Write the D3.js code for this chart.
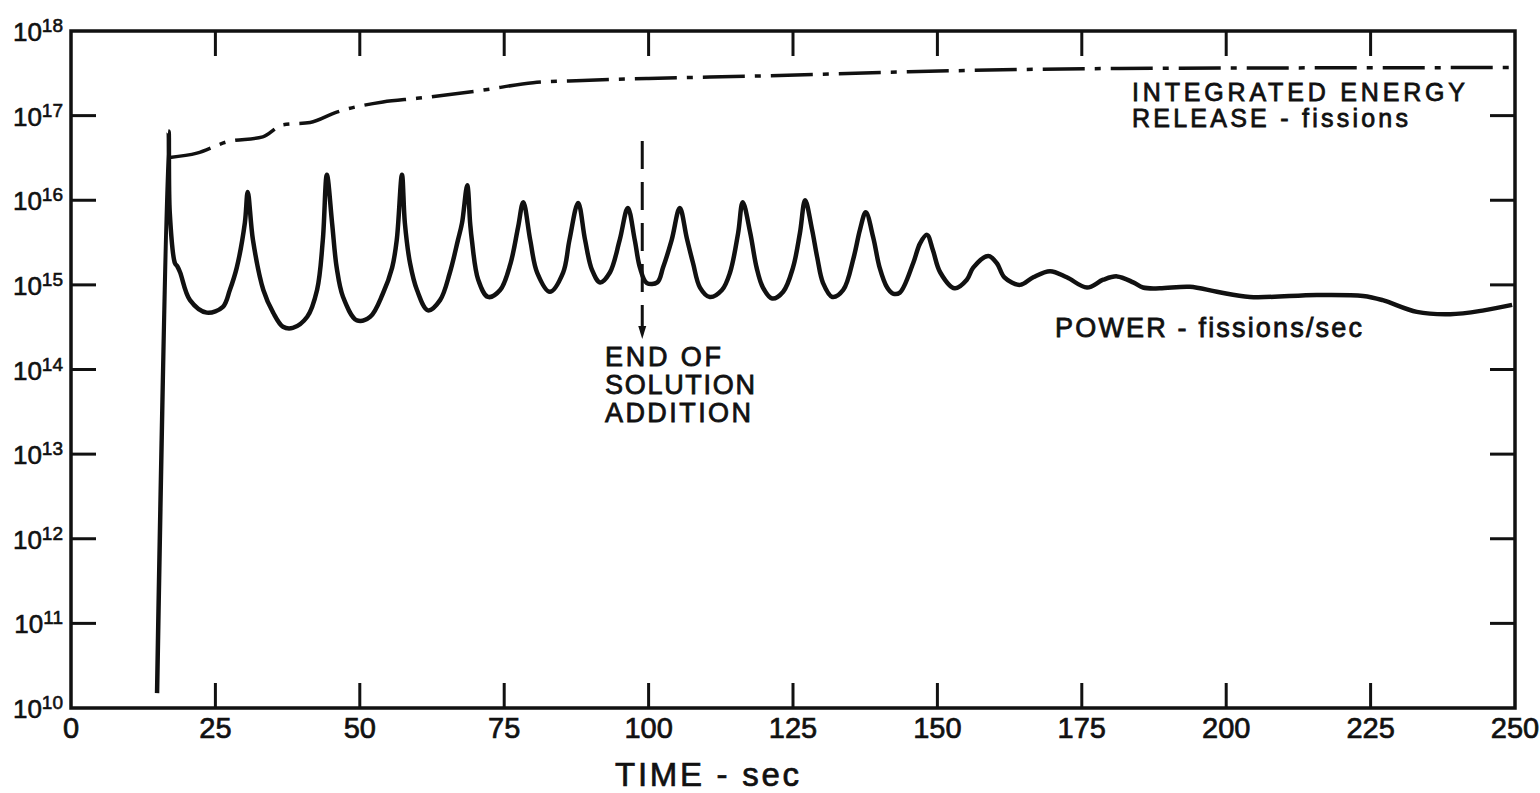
<!DOCTYPE html>
<html>
<head>
<meta charset="utf-8">
<script src="https://cdn.jsdelivr.net/npm/d3@7"></script>
<style>
  body { margin: 0; background: #fff; }
  svg { display: block; }
  text { font-family: "Liberation Sans", Arial, sans-serif; fill: #111; }
</style>
</head>
<body>
<svg id="chart" width="1540" height="793"></svg>
<script>
// time axis ticks (sec)
var timeTicks = [0, 25, 50, 75, 100, 125, 150, 175, 200, 225, 250];
// decades on the log axis
var decadeExps = [10, 11, 12, 13, 14, 15, 16, 17, 18];

// power - fissions/sec
var powerTime = [14.9, 16.9, 17.1, 18.0, 18.4, 18.9, 20.6, 23.5, 26.3, 27.5, 28.7, 30.1, 30.6,
  31.5, 33.3, 35.0, 36.7, 38.4, 40.9, 42.6, 43.6, 44.3,
  45.2, 46.0, 47.1, 49.5, 51.8, 54.0, 55.6, 56.4, 57.3,
  57.8, 58.7, 59.9, 61.8, 63.9, 65.6, 67.0, 67.7, 68.6,
  69.1, 69.4, 70.5, 72.2, 74.3, 76.1, 77.4, 78.3,
  79.5, 80.7, 82.9, 85.2, 86.3, 87.8,
  89.0, 90.2, 91.6, 93.3, 95.0, 96.4,
  97.6, 98.5, 99.7, 101.5, 102.5, 104.0, 105.4,
  106.6, 107.7, 108.9, 110.6, 112.7, 114.1, 115.5, 116.3,
  117.6, 118.7, 119.8, 121.4, 123.3, 125.0, 126.2, 127.1,
  128.3, 129.2, 130.2, 131.8, 133.7, 135.5, 136.6, 137.6,
  138.9, 140.0, 141.3, 142.3, 143.5, 145.8, 147.0, 148.2,
  149.2, 150.5, 153.0, 155.1, 156.2, 158.8,
  160.3, 161.6, 164.3, 166.6, 169.5, 172.4, 175.9, 178.7, 181.1, 183.9, 185.6, 188.5,
  193.7, 198.4, 204.1, 215.7, 223.7, 227.1, 233.0, 238.8, 244.6, 249.5];
var powerValue = [1.5e10, 6.5e16, 7.1e15, 1.8e15, 1.66e15, 1.4e15, 6.6e14, 4.7e14, 5.5e14, 8.7e14, 1.6e15, 5.4e15, 1.25e16,
  3.4e15, 8.7e14, 4.7e14, 3.2e14, 3.1e14, 4.2e14, 8.7e14, 3.4e15, 2.0e16,
  5.4e15, 1.6e15, 7.2e14, 3.8e14, 4.2e14, 7.9e14, 1.6e15, 3.4e15, 2.0e16,
  5.4e15, 1.8e15, 8.7e14, 5.0e14, 6.6e14, 1.4e15, 3.4e15, 5.4e15, 1.5e16,
  5.4e15, 3.4e15, 1.15e15, 7.2e14, 8.7e14, 1.8e15, 4.8e15, 9.5e15,
  3.4e15, 1.4e15, 8.3e14, 1.4e15, 3.4e15, 9.3e15,
  3.4e15, 1.5e15, 1.07e15, 1.4e15, 3.4e15, 8.1e15,
  3.4e15, 1.6e15, 1.05e15, 1.07e15, 1.6e15, 3.4e15, 8.1e15,
  3.6e15, 1.8e15, 9.3e14, 7.2e14, 8.7e14, 1.4e15, 4.1e15, 9.5e15,
  4.1e15, 1.6e15, 9.3e14, 6.9e14, 8.3e14, 1.6e15, 4.1e15, 1.0e16,
  4.5e15, 2.1e15, 1.05e15, 7.2e14, 8.7e14, 2.1e15, 4.5e15, 7.2e15,
  3.6e15, 1.6e15, 9.3e14, 7.9e14, 8.1e14, 1.8e15, 3.1e15, 3.9e15,
  2.6e15, 1.4e15, 9.1e14, 1.15e15, 1.6e15, 2.2e15,
  1.8e15, 1.23e15, 1.0e15, 1.23e15, 1.45e15, 1.23e15, 9.3e14, 1.15e15, 1.26e15, 1.07e15, 9.3e14, 9.1e14,
  9.5e14, 8.3e14, 7.2e14, 7.6e14, 7.4e14, 6.6e14, 4.8e14, 4.5e14, 5.0e14, 5.8e14];

// integrated energy release - fissions
var energyTime = [17.1, 21.8, 27.0, 33.2, 36.7, 41.4, 46.0, 54.0, 59.9, 71.3, 80.0, 88.6, 100, 120, 145, 180, 250];
var energyValue = [3.2e16, 3.6e16, 4.9e16, 5.6e16, 7.8e16, 8.3e16, 1.1e17, 1.45e17, 1.6e17, 2.0e17, 2.45e17, 2.6e17, 2.75e17, 2.95e17, 3.3e17, 3.6e17, 3.7e17];

// end of solution addition marker
var endAddTime = 98.9;
var endAddTop = 5e16, endAddTip = 2.3e14;

var svg = d3.select("#chart");
var ink = "#111";

var x = d3.scaleLinear().domain([0, 250]).range([71, 1515]);
var y = d3.scaleLog().domain([1e10, 1e18]).range([708, 31]);

// frame
svg.append("rect")
  .attr("x", x(0)).attr("y", y(1e18))
  .attr("width", x(250) - x(0)).attr("height", y(1e10) - y(1e18))
  .attr("fill", "none").attr("stroke", ink).attr("stroke-width", 3.5);

// inward ticks on all four sides
var tickLen = 25;
var innerX = timeTicks.filter(function(t){ return t > 0 && t < 250; });
var innerY = decadeExps.filter(function(e){ return e > 10 && e < 18; });
var ticks = svg.append("g").attr("stroke", ink).attr("stroke-width", 3);
innerX.forEach(function(t){
  ticks.append("line").attr("x1", x(t)).attr("x2", x(t))
    .attr("y1", y(1e10)).attr("y2", y(1e10) - tickLen);
  ticks.append("line").attr("x1", x(t)).attr("x2", x(t))
    .attr("y1", y(1e18)).attr("y2", y(1e18) + tickLen);
});
innerY.forEach(function(e){
  var v = Math.pow(10, e);
  ticks.append("line").attr("x1", x(0)).attr("x2", x(0) + tickLen)
    .attr("y1", y(v)).attr("y2", y(v));
  ticks.append("line").attr("x1", x(250)).attr("x2", x(250) - tickLen)
    .attr("y1", y(v)).attr("y2", y(v));
});

// x tick labels
svg.selectAll(".xlab")
  .data(timeTicks)
  .enter()
  .append("text")
  .attr("class", "xlab")
  .attr("x", function(d){ return x(d); })
  .attr("y", 738)
  .attr("text-anchor", "middle")
  .attr("font-size", 29)
  .attr("stroke", ink).attr("stroke-width", 0.7)
  .text(function(d){ return d; });

// y tick labels, 10 with superscript exponent
var ylab = svg.selectAll(".ylab")
  .data(decadeExps)
  .enter()
  .append("text")
  .attr("class", "ylab")
  .attr("x", 63)
  .attr("y", function(d){ return y(Math.pow(10, d)) + 10; })
  .attr("text-anchor", "end")
  .attr("stroke", ink).attr("stroke-width", 0.6);
ylab.append("tspan").attr("font-size", 26).text("10");
ylab.append("tspan").attr("font-size", 19).attr("dy", -9).text(function(d){ return d; });

// axis title
svg.append("text")
  .attr("x", 707).attr("y", 786)
  .attr("text-anchor", "middle")
  .attr("font-size", 33)
  .attr("stroke", ink).attr("stroke-width", 0.7)
  .attr("textLength", 184).attr("lengthAdjust", "spacing")
  .text("TIME - sec");

// energy curve, dash-dot
var energyLine = d3.line()
  .x(function(d){ return x(d[0]); })
  .y(function(d){ return y(d[1]); })
  .curve(d3.curveMonotoneX);
svg.append("path")
  .datum(d3.zip(energyTime, energyValue))
  .attr("d", energyLine)
  .attr("fill", "none")
  .attr("stroke", ink)
  .attr("stroke-width", 3.5)
  .attr("stroke-dasharray", "42,10,6,10");

// power curve
var powerLine = d3.line()
  .x(function(d){ return x(d[0]); })
  .y(function(d){ return y(d[1]); })
  .curve(d3.curveCatmullRom.alpha(0.5));
svg.append("path")
  .datum(d3.zip(powerTime, powerValue))
  .attr("d", powerLine)
  .attr("fill", "none")
  .attr("stroke", ink)
  .attr("stroke-width", 4.5)
  .attr("stroke-linejoin", "round");

// end of solution addition: dashed arrow
var ax = x(endAddTime);
svg.append("line")
  .attr("x1", ax).attr("x2", ax)
  .attr("y1", y(endAddTop)).attr("y2", y(endAddTip) - 8)
  .attr("stroke", ink).attr("stroke-width", 3)
  .attr("stroke-dasharray", "28,13");
svg.append("path")
  .attr("d", "M" + (ax - 4) + "," + (y(endAddTip) - 13) + " L" + (ax + 4) + "," + (y(endAddTip) - 13) + " L" + ax + "," + y(endAddTip) + " Z")
  .attr("fill", ink);

// annotations
function label(lines, x0, y0, size, step, widths){
  lines.forEach(function(s, i){
    var t = svg.append("text")
      .attr("x", x0).attr("y", y0 + i * step)
      .attr("font-size", size)
      .attr("stroke", ink).attr("stroke-width", 0.8)
      .text(s);
    if (widths && widths[i]) t.attr("textLength", widths[i]).attr("lengthAdjust", "spacing");
  });
}
label(["END OF", "SOLUTION", "ADDITION"], 605, 366, 27, 28, [116, 150, 146]);
label(["INTEGRATED  ENERGY", "RELEASE - fissions"], 1132, 101, 25, 25.5, [333, 276]);
label(["POWER - fissions/sec"], 1055, 337, 27, 0, [307]);
</script>
</body>
</html>
